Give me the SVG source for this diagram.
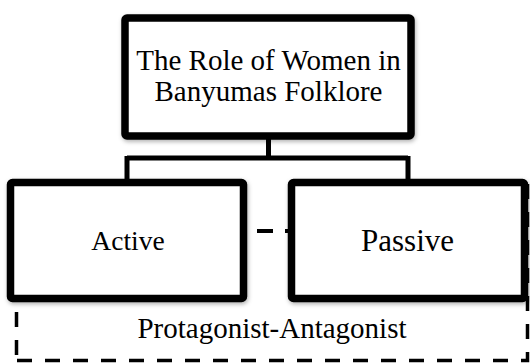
<svg xmlns="http://www.w3.org/2000/svg" width="530" height="363" viewBox="0 0 530 363">
  <defs>
    <filter id="sh" x="-10%" y="-10%" width="125%" height="130%">
      <feDropShadow dx="1" dy="2" stdDeviation="2" flood-color="#000" flood-opacity="0.3"/>
    </filter>
    <style>
      .box { fill: #fff; stroke: #000; stroke-width: 7.5; filter: url(#sh); }
      .lbl { font-family: "Liberation Serif", "Times New Roman", serif; fill: #000; text-anchor: middle; }
      .conn { stroke: #000; stroke-width: 5; fill: none; }
      .dash { stroke: #000; stroke-width: 3.5; fill: none; stroke-dasharray: 15 13; }
    </style>
  </defs>
  <rect width="530" height="363" fill="#fff"/>
  <g id="group-frame">
    <path class="dash" d="M16.5,355 V200"/>
    <path class="dash" d="M17,360.5 H527.5 V180"/>
  </g>
  <g id="connectors">
    <path class="conn" d="M268.5,138 V158 M127,158 H408 M127,156 V182 M408,156 V182"/>
    <path class="dash" style="stroke-width:4;stroke-dasharray:16 12" d="M247,231 H290" stroke-dashoffset="-10"/>
  </g>
  <g id="node-root">
    <rect class="box" x="125" y="18" width="286" height="118" rx="2"/>
    <text class="lbl" x="268.5" y="70" font-size="29">The Role of Women in</text>
    <text class="lbl" x="268.5" y="101" font-size="29">Banyumas Folklore</text>
  </g>
  <g id="node-active">
    <rect class="box" x="10.5" y="182.5" width="233" height="116" rx="2"/>
    <text class="lbl" x="128" y="250" font-size="27.5">Active</text>
  </g>
  <g id="node-passive">
    <rect class="box" x="291.5" y="182.5" width="233" height="116" rx="2"/>
    <text class="lbl" x="407.5" y="251" font-size="31">Passive</text>
  </g>
  <g id="label-frame">
    <text class="lbl" x="272" y="338" font-size="29">Protagonist-Antagonist</text>
  </g>
</svg>
